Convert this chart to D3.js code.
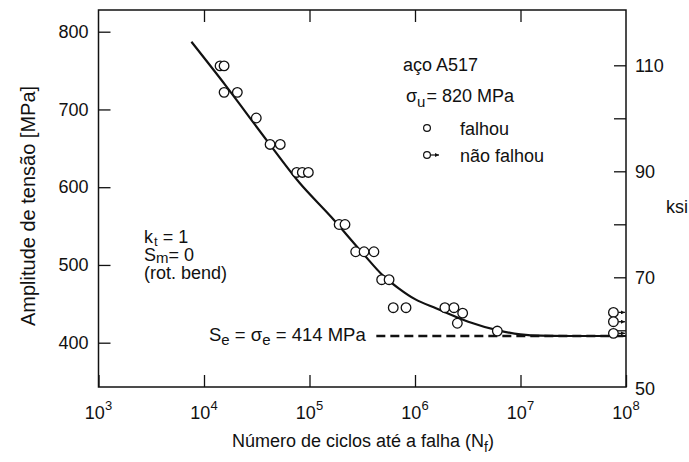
<!DOCTYPE html>
<html><head><meta charset="utf-8">
<script src="https://cdn.jsdelivr.net/npm/d3@7"></script>
<style>
body{margin:0;background:#fff}
svg text{font-family:"Liberation Sans",Arial,Helvetica,sans-serif;fill:#111}
</style>
</head><body><svg id="c" width="689" height="462"></svg>
<script>
// ---------- data ----------
const xTickExponents = [3, 4, 5, 6, 7, 8];
const yTicksMPa = [400, 500, 600, 700, 800];
const ksiTicks = [60, 70, 80, 90, 100, 110];
const ksiLabels = [50, 70, 90, 110];

// failed specimens (cycles, MPa)
const failedN = [1.42e4, 1.55e4, 1.55e4, 2.07e4, 3.13e4, 4.23e4, 5.28e4, 7.57e4, 8.55e4, 9.75e4,
                 1.91e5, 2.17e5, 2.74e5, 3.29e5, 4.08e5, 4.83e5, 5.68e5, 6.22e5, 8.22e5,
                 1.92e6, 2.34e6, 2.83e6, 2.52e6, 6.03e6];
const failedS = [756, 756, 722, 722, 689, 655, 655, 619, 619, 619,
                 552, 552, 517, 517, 517, 481, 481, 445, 445,
                 445, 445, 438, 425, 415];
// run-outs (did not fail)
const runoutN = [7.6e7, 7.6e7, 7.6e7];
const runoutS = [439, 427, 412];

// fitted S-N curve
const curveN = [7.6e3, 1.6e4, 4e4, 8e4, 1.6e5, 3.2e5, 5e5, 7e5, 1e6, 1.6e6, 3.2e6, 6.3e6, 1.25e7, 3e7, 1e8];
const curveS = [787, 731, 659, 606, 562, 515, 486, 470, 456, 444, 427, 415.5, 409.5, 408.6, 408.6];

// endurance limit line
const enduranceS = 408.6;
const enduranceN = [4.3e5, 1e8];

// ---------- layout ----------
const svg = d3.select("#c");
const L = 98.5, R = 626, T = 10, B = 387;
const x = d3.scaleLog().domain([1e3, 1e8]).range([L, R]);
const y = d3.scaleLinear().domain([400, 800]).range([342.7, 31.7]);
const yK = d3.scaleLinear().domain([70, 110]).range([277.3, 65.3]);
const ink = "#111";
const FS = 18;

// axes (ticks inward)
const gB = svg.append("g").attr("transform", `translate(0,${B})`)
  .call(d3.axisBottom(x).tickValues(xTickExponents.map(e => Math.pow(10, e))).tickSize(-12).tickFormat(""));
const gT = svg.append("g").attr("transform", `translate(0,${T})`)
  .call(d3.axisTop(x).tickValues(xTickExponents.slice(1, -1).map(e => Math.pow(10, e))).tickSize(-12).tickFormat(""));
const gL = svg.append("g").attr("transform", `translate(${L},0)`)
  .call(d3.axisLeft(y).tickValues(yTicksMPa).tickSize(-12).tickPadding(10));
const gR = svg.append("g").attr("transform", `translate(${R},0)`)
  .call(d3.axisRight(yK).tickValues(ksiTicks).tickSize(-12).tickFormat(""));
[gB, gT, gL, gR].forEach(g => {
  g.select(".domain").remove();
  g.selectAll(".tick line").attr("stroke", ink).attr("stroke-width", 1.3);
});
gL.selectAll(".tick text").attr("font-size", FS).attr("fill", ink)
  .style("font-family", '"Liberation Sans",Arial,sans-serif');

// frame
svg.append("rect").attr("x", L).attr("y", T).attr("width", R - L).attr("height", B - T)
  .attr("fill", "none").attr("stroke", ink).attr("stroke-width", 1.5);

// bottom labels with superscripts
const xl = svg.append("g");
xTickExponents.forEach(e => {
  const t = xl.append("text").attr("x", x(Math.pow(10, e))).attr("y", 419)
    .attr("text-anchor", "middle").attr("font-size", FS);
  t.append("tspan").text("10");
  t.append("tspan").attr("dy", -9).attr("font-size", 13).text(e);
});

// right ksi labels
ksiLabels.forEach(v => {
  svg.append("text").attr("x", 635).attr("y", v === 50 ? 395 : yK(v) + 6.5).attr("font-size", FS).text(v);
});
svg.append("text").attr("x", 666).attr("y", 213).attr("font-size", FS).text("ksi");

// axis titles
const xt = svg.append("text").attr("x", 363).attr("y", 447).attr("text-anchor", "middle").attr("font-size", FS);
xt.append("tspan").text("Número de ciclos até a falha (N");
xt.append("tspan").attr("dy", 5).attr("font-size", 14).text("f");
xt.append("tspan").attr("dy", -5).text(")");
svg.append("text").attr("transform", "translate(35,206) rotate(-90)")
  .attr("text-anchor", "middle").attr("font-size", 20).text("Amplitude de tensão [MPa]");

// endurance dashed line
svg.append("line").attr("x1", x(enduranceN[0])).attr("x2", x(enduranceN[1]))
  .attr("y1", y(enduranceS)).attr("y2", y(enduranceS))
  .attr("stroke", ink).attr("stroke-width", 2.4).attr("stroke-dasharray", "9,5");

// curve
const line = d3.line().x(d => x(d[0])).y(d => y(d[1])).curve(d3.curveMonotoneX);
svg.append("path").datum(curveN.map((n, i) => [n, curveS[i]]))
  .attr("d", line).attr("fill", "none").attr("stroke", ink).attr("stroke-width", 2.2);

// failed points
svg.append("g").selectAll("circle").data(failedN.map((n, i) => [n, failedS[i]])).join("circle")
  .attr("cx", d => x(d[0])).attr("cy", d => y(d[1])).attr("r", 4.8)
  .attr("fill", "#fff").attr("stroke", ink).attr("stroke-width", 1.3);

// arrow marker
svg.append("defs").append("marker").attr("id", "ah").attr("viewBox", "0 0 10 10")
  .attr("refX", 10).attr("refY", 5).attr("markerWidth", 4).attr("markerHeight", 4)
  .attr("markerUnits", "userSpaceOnUse").attr("orient", "auto")
  .append("path").attr("d", "M0,0L10,5L0,10Z").attr("fill", ink);

// run-outs
const ro = svg.append("g").selectAll("g").data(runoutN.map((n, i) => [n, runoutS[i]])).join("g");
ro.append("line").attr("x1", d => x(d[0]) + 4.8).attr("x2", d => x(d[0]) + 11.5)
  .attr("y1", d => y(d[1])).attr("y2", d => y(d[1]))
  .attr("stroke", ink).attr("stroke-width", 1.3).attr("marker-end", "url(#ah)");
ro.append("circle").attr("cx", d => x(d[0])).attr("cy", d => y(d[1])).attr("r", 4.8)
  .attr("fill", "#fff").attr("stroke", ink).attr("stroke-width", 1.3);

// annotations
svg.append("text").attr("x", 403).attr("y", 71).attr("font-size", FS).text("aço A517");
const su = svg.append("text").attr("x", 406).attr("y", 102).attr("font-size", FS);
su.append("tspan").text("σ");
su.append("tspan").attr("dy", 5).attr("font-size", 15).text("u");
su.append("tspan").attr("dy", -5).attr("dx", 1).text("= 820 MPa");

svg.append("circle").attr("cx", 427).attr("cy", 128).attr("r", 3.4)
  .attr("fill", "#fff").attr("stroke", ink).attr("stroke-width", 1.2);
svg.append("text").attr("x", 460).attr("y", 135).attr("font-size", FS).text("falhou");
svg.append("circle").attr("cx", 427).attr("cy", 155).attr("r", 3.4)
  .attr("fill", "#fff").attr("stroke", ink).attr("stroke-width", 1.2);
svg.append("line").attr("x1", 430.4).attr("x2", 439).attr("y1", 155).attr("y2", 155)
  .attr("stroke", ink).attr("stroke-width", 1.2).attr("marker-end", "url(#ah)");
svg.append("text").attr("x", 460).attr("y", 162).attr("font-size", FS).text("não falhou");

const k1 = svg.append("text").attr("x", 144).attr("y", 243).attr("font-size", FS);
k1.append("tspan").text("k");
k1.append("tspan").attr("dy", 3).attr("dx", 1).attr("font-size", 13).text("t");
k1.append("tspan").attr("dy", -3).text("  = 1");
const k2 = svg.append("text").attr("x", 144).attr("y", 261).attr("font-size", FS);
k2.append("tspan").text("S");
k2.append("tspan").attr("dy", 2).attr("font-size", 15).text("m");
k2.append("tspan").attr("dy", -2).text("= 0");
svg.append("text").attr("x", 144).attr("y", 279).attr("font-size", FS).text("(rot. bend)");

const se = svg.append("text").attr("x", 209).attr("y", 341).attr("font-size", 18.5);
se.append("tspan").text("S");
se.append("tspan").attr("dy", 4).attr("font-size", 15).text("e");
se.append("tspan").attr("dy", -4).text(" = σ");
se.append("tspan").attr("dy", 4).attr("font-size", 15).text("e");
se.append("tspan").attr("dy", -4).text(" = 414 MPa");
</script>
</body></html>
